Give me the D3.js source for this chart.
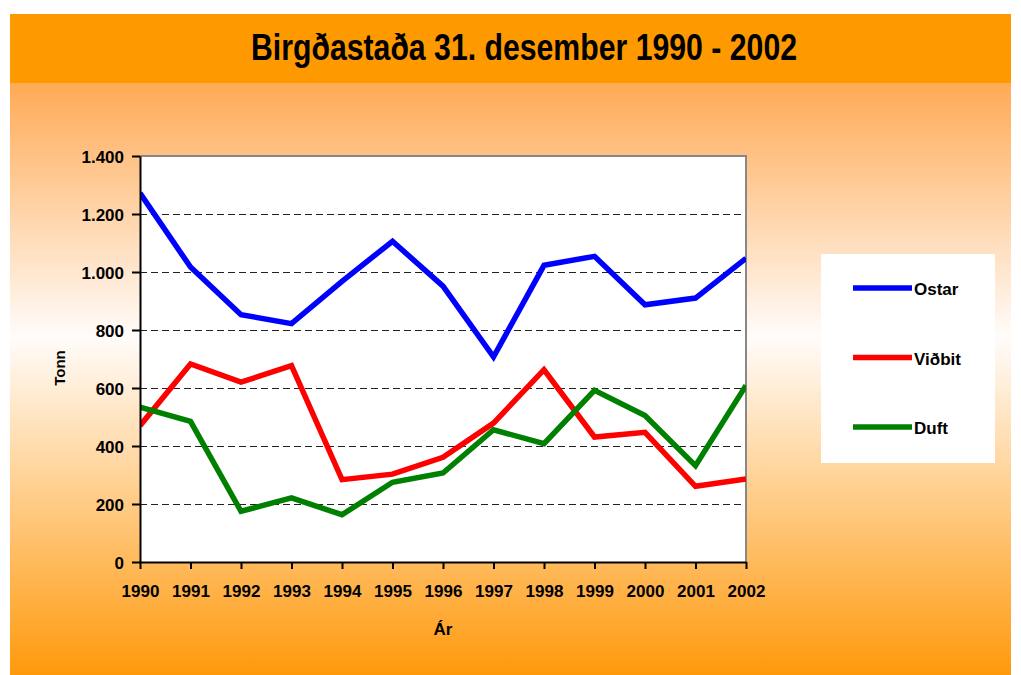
<!DOCTYPE html>
<html>
<head>
<meta charset="utf-8">
<script src="https://cdn.jsdelivr.net/npm/d3@7"></script>
<style>
  body { margin: 0; background: #fff; }
  svg text { font-family: "Liberation Sans", Arial, sans-serif; font-weight: bold; fill: #000; }
</style>
</head>
<body>
<div id="chart"></div>
<script>
// data
var years = [1990, 1991, 1992, 1993, 1994, 1995, 1996, 1997, 1998, 1999, 2000, 2001, 2002];
var ostar  = [1272, 1017, 853, 822, 968, 1106, 951, 707, 1023, 1054, 887, 910, 1047];
var vidbit = [470, 683, 620, 677, 284, 303, 361, 479, 663, 431, 447, 261, 286];
var duft   = [534, 485, 175, 221, 163, 275, 307, 456, 408, 592, 505, 332, 609];
var yTicks = [0, 200, 400, 600, 800, 1000, 1200, 1400];
var seriesNames = ["Ostar", "Viðbit", "Duft"];
var seriesColors = ["#0000ff", "#ff0000", "#008000"];

var width = 1021, height = 675;
var plot = {left: 140, right: 746, top: 156, bottom: 562};

var svg = d3.select("#chart").append("svg")
    .attr("width", width)
    .attr("height", height);

var defs = svg.append("defs");
var grad = defs.append("linearGradient")
    .attr("id", "bg")
    .attr("x1", 0).attr("y1", 0).attr("x2", 0).attr("y2", 1);
grad.append("stop").attr("offset", "0%").attr("stop-color", "#ffaa55");
grad.append("stop").attr("offset", "43%").attr("stop-color", "#fffcfa");
grad.append("stop").attr("offset", "100%").attr("stop-color", "#ff990c");

defs.append("clipPath").attr("id", "plotclip")
  .append("rect")
    .attr("x", plot.left).attr("y", plot.top)
    .attr("width", plot.right - plot.left)
    .attr("height", plot.bottom - plot.top);

// background panels
svg.append("rect")
    .attr("x", 10).attr("y", 83)
    .attr("width", 1001).attr("height", height - 83)
    .attr("fill", "url(#bg)");

svg.append("rect")
    .attr("x", 10).attr("y", 14)
    .attr("width", 1001).attr("height", 69)
    .attr("fill", "#ff9900");

svg.append("text")
    .attr("x", 251).attr("y", 60)
    .attr("textLength", 546)
    .attr("lengthAdjust", "spacingAndGlyphs")
    .style("font-size", "37px")
    .text("Birgðastaða 31. desember 1990 - 2002");

var x = d3.scaleLinear().domain([1990, 2002]).range([plot.left, plot.right]);
var y = d3.scaleLinear().domain([0, 1400]).range([plot.bottom, plot.top]);

var locale = d3.formatLocale({decimal: ",", thousands: ".", grouping: [3], currency: ["", ""]});
var fmt = locale.format(",");

// plot area
svg.append("rect")
    .attr("x", plot.left).attr("y", plot.top)
    .attr("width", plot.right - plot.left)
    .attr("height", plot.bottom - plot.top)
    .attr("fill", "#fff");

// gridlines
svg.append("g")
  .selectAll("line")
  .data(yTicks.filter(function(d){ return d > 0 && d < 1400; }))
  .enter().append("line")
    .attr("x1", plot.left).attr("x2", plot.right)
    .attr("y1", function(d){ return y(d) + 0.5; })
    .attr("y2", function(d){ return y(d) + 0.5; })
    .attr("stroke", "#222")
    .attr("stroke-width", 1)
    .attr("stroke-dasharray", "7,4");

// gray border top and right
svg.append("path")
    .attr("d", "M" + plot.left + "," + plot.top + "H" + plot.right + "V" + plot.bottom)
    .attr("fill", "none")
    .attr("stroke", "#888")
    .attr("stroke-width", 2);

// lines
var lineGen = d3.line()
    .x(function(d, i){ return x(years[i]); })
    .y(function(d){ return y(d); });

var allSeries = [ostar, vidbit, duft];
svg.append("g")
    .attr("clip-path", "url(#plotclip)")
  .selectAll("path")
  .data(allSeries)
  .enter().append("path")
    .attr("d", lineGen)
    .attr("fill", "none")
    .attr("stroke", function(d, i){ return seriesColors[i]; })
    .attr("stroke-width", 5.5)
    .attr("stroke-linejoin", "miter");

// axes
var yAxis = d3.axisLeft(y).tickValues(yTicks).tickSize(8).tickSizeOuter(0).tickFormat(fmt).tickPadding(8);
var xAxis = d3.axisBottom(x).tickValues(years).tickSize(7).tickSizeOuter(0).tickFormat(d3.format("d")).tickPadding(16);

var gy = svg.append("g")
    .attr("transform", "translate(" + plot.left + ",0)")
    .call(yAxis);
var gx = svg.append("g")
    .attr("transform", "translate(0," + plot.bottom + ")")
    .call(xAxis);

[gx, gy].forEach(function(g){
  g.select(".domain").attr("stroke", "#000").attr("stroke-width", 2);
  g.selectAll(".tick line").attr("stroke", "#000").attr("stroke-width", 2);
  g.selectAll(".tick text")
      .style("font-size", "17px")
      .style("font-family", "'Liberation Sans', Arial, sans-serif")
      .style("font-weight", "bold")
      .attr("fill", "#000");
});
gy.selectAll(".tick text").attr("dy", "0.36em");
gx.selectAll(".tick text").attr("dy", "0.7em");

// axis titles
svg.append("text")
    .attr("transform", "translate(65,368) rotate(-90)")
    .attr("text-anchor", "middle")
    .style("font-size", "15px")
    .text("Tonn");

svg.append("text")
    .attr("x", 443).attr("y", 635)
    .attr("text-anchor", "middle")
    .style("font-size", "17px")
    .text("Ár");

// legend
var legend = svg.append("g");
legend.append("rect")
    .attr("x", 821).attr("y", 254)
    .attr("width", 174).attr("height", 209)
    .attr("fill", "#fff");

var legendY = d3.scalePoint().domain(seriesNames).range([288, 427]);
var items = legend.selectAll(".item")
  .data(seriesNames)
  .enter().append("g")
    .attr("class", "item")
    .attr("transform", function(d){ return "translate(0," + legendY(d) + ")"; });

items.append("line")
    .attr("x1", 853).attr("x2", 912)
    .attr("stroke", function(d, i){ return seriesColors[i]; })
    .attr("stroke-width", 5.5);

items.append("text")
    .attr("x", 914).attr("y", 7)
    .style("font-size", "17px")
    .text(function(d){ return d; });
</script>
</body>
</html>
